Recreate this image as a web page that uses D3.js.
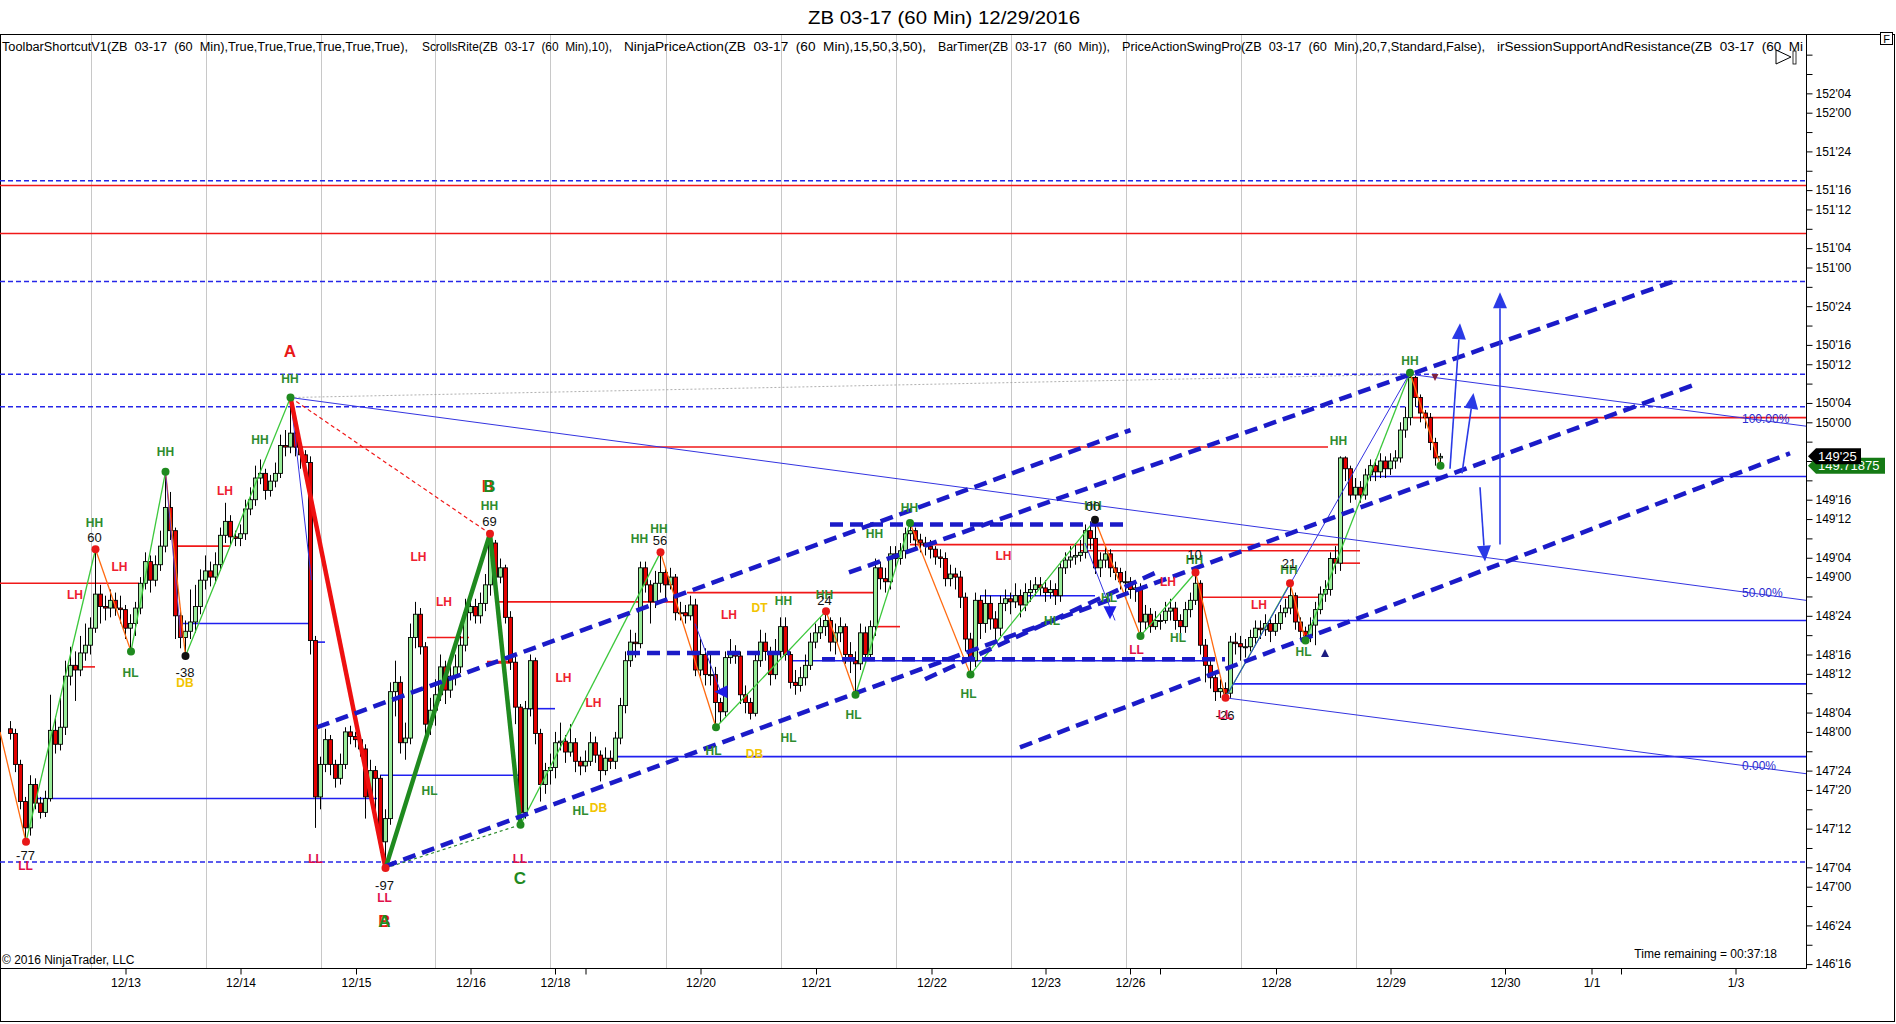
<!DOCTYPE html>
<html><head><meta charset="utf-8">
<script src="https://cdn.jsdelivr.net/npm/d3@7"></script>
<style>
body{margin:0;background:#fff;}
svg{display:block;font-family:Arial,"Liberation Sans",sans-serif;}
</style>
</head><body>
<svg id="c" width="1896" height="1024"></svg>
<script>
// ---------------- DATA ----------------
const title = "ZB 03-17 (60 Min)  12/29/2016";
const firstOpen = 148.02;
const closes = [
147.99,147.79,147.55,147.38,147.66,147.54,147.48,147.57,148.01,147.92,
148.03,148.36,148.43,148.40,148.51,148.56,148.67,148.89,148.81,148.80,
148.85,148.80,148.79,148.67,148.70,148.80,148.96,149.10,148.98,149.08,
149.20,149.45,149.30,148.75,148.61,148.65,148.71,148.81,148.98,149.04,
149.00,149.08,149.27,149.36,149.26,149.25,149.28,149.44,149.50,149.64,
149.67,149.56,149.62,149.67,149.85,149.84,149.93,149.84,149.79,149.74,
148.59,147.58,147.79,147.95,147.79,147.70,147.79,148.00,147.97,147.95,
147.89,147.58,147.75,147.70,147.29,147.44,148.26,148.32,147.93,147.96,
148.61,148.76,148.55,148.05,148.14,148.24,148.42,148.27,148.36,148.42,
148.56,148.77,148.81,148.75,148.83,148.95,149.22,149.00,149.06,148.74,
148.45,148.16,147.48,148.15,148.46,147.99,147.66,147.75,147.77,147.93,
147.94,147.87,147.93,147.81,147.78,147.81,147.93,147.85,147.75,147.83,
147.81,147.96,148.17,148.46,148.58,148.57,149.06,148.95,148.84,148.96,
149.03,148.95,149.00,148.77,148.77,148.75,148.82,148.40,148.50,148.37,
148.37,148.19,148.13,148.48,148.51,148.49,148.24,148.19,148.12,148.46,
148.58,148.52,148.37,148.52,148.68,148.50,148.32,148.30,148.35,148.43,
148.58,148.64,148.68,148.72,148.58,148.64,148.68,148.50,148.46,148.44,
148.64,148.50,148.68,149.06,148.99,148.97,149.15,149.12,149.17,149.28,
149.30,149.24,149.22,149.20,149.18,149.13,149.12,148.99,149.02,149.00,
148.87,148.60,148.46,148.85,148.70,148.83,148.73,148.67,148.83,148.86,
148.84,148.88,148.82,148.90,148.92,148.95,148.93,148.90,148.92,148.88,
149.06,149.11,149.13,149.14,149.16,149.30,149.25,149.06,149.11,149.15,
149.06,149.03,148.97,148.97,148.92,148.93,148.71,148.76,148.68,148.72,
148.72,148.78,148.80,148.72,148.68,148.79,148.85,148.96,148.56,148.43,
148.35,148.26,148.28,148.25,148.58,148.57,148.55,148.55,148.61,148.67,
148.66,148.70,148.65,148.70,148.77,148.80,148.88,148.71,148.65,148.62,
148.69,148.79,148.89,148.92,149.12,149.09,149.77,149.70,149.53,149.58,
149.53,149.66,149.72,149.68,149.75,149.70,149.75,149.77,149.95,150.03,
150.29,150.16,150.06,150.03,149.87,149.77,149.78];
const highs = [
148.07,148.02,147.82,147.58,147.72,147.70,147.58,147.62,148.24,148.10,
148.22,148.46,148.55,148.52,148.62,148.70,148.74,149.18,148.95,148.88,
148.92,148.90,148.88,148.82,148.76,148.84,149.00,149.16,149.14,149.14,
149.30,149.68,149.55,149.32,148.80,148.72,148.92,148.95,149.05,149.14,
149.10,149.16,149.32,149.48,149.40,149.30,149.34,149.50,149.58,149.72,
149.76,149.70,149.66,149.74,149.92,149.95,150.16,149.98,149.88,149.82,
149.78,148.62,147.84,148.02,147.98,147.82,147.86,148.03,148.04,148.00,
147.98,147.92,147.82,147.78,147.72,147.50,148.32,148.46,148.36,148.06,
148.70,148.84,148.80,148.58,148.22,148.34,148.50,148.46,148.44,148.50,
148.62,148.86,148.88,148.86,148.90,149.02,149.28,149.24,149.12,149.08,
148.78,148.50,148.18,148.20,148.50,148.48,148.02,147.80,147.86,148.00,
148.06,147.98,148.05,147.96,147.84,147.88,148.00,147.97,147.88,147.90,
147.88,148.00,148.22,148.52,148.66,148.64,149.10,149.10,148.98,149.04,
149.16,149.06,149.06,149.02,148.84,148.82,148.88,148.86,148.60,148.54,
148.50,148.42,148.22,148.52,148.60,148.56,148.52,148.30,148.22,148.50,
148.66,148.64,148.55,148.60,148.74,148.74,148.52,148.40,148.42,148.50,
148.64,148.70,148.74,148.78,148.74,148.70,148.74,148.70,148.58,148.52,
148.70,148.68,148.72,149.12,149.10,149.06,149.20,149.20,149.22,149.32,
149.35,149.32,149.28,149.26,149.24,149.20,149.18,149.16,149.08,149.06,
149.04,148.90,148.64,148.90,148.88,148.92,148.88,148.78,148.88,148.92,
148.90,148.96,148.92,148.96,148.98,149.00,149.00,148.98,148.98,148.96,
149.10,149.16,149.20,149.22,149.24,149.34,149.36,149.37,149.16,149.20,
149.18,149.10,149.06,149.04,149.00,148.98,148.96,148.82,148.80,148.78,
148.76,148.84,148.86,148.84,148.76,148.84,148.90,149.03,148.98,148.60,
148.46,148.38,148.34,148.32,148.62,148.64,148.62,148.60,148.66,148.72,
148.72,148.76,148.74,148.76,148.82,148.86,148.96,148.90,148.74,148.68,
148.74,148.84,148.94,148.98,149.16,149.20,149.78,149.78,149.72,149.64,
149.62,149.70,149.76,149.76,149.80,149.78,149.80,149.82,150.00,150.10,
150.32,150.30,150.18,150.08,150.06,149.90,149.80];
const lows = [
147.95,147.74,147.50,147.29,147.33,147.50,147.44,147.45,147.55,147.86,
147.88,147.98,148.30,148.20,148.36,148.46,148.50,148.64,148.70,148.72,
148.74,148.75,148.70,148.60,148.52,148.62,148.76,148.92,148.90,148.94,
149.04,149.16,149.24,148.60,148.54,148.49,148.60,148.64,148.76,148.92,
148.94,148.96,149.04,149.22,149.20,149.20,149.20,149.24,149.40,149.46,
149.60,149.50,149.52,149.58,149.64,149.78,149.80,149.78,149.70,149.66,
148.50,147.38,147.50,147.74,147.72,147.64,147.66,147.76,147.92,147.90,
147.84,147.44,147.54,147.40,147.22,147.12,147.40,148.10,147.86,147.82,
147.92,148.54,148.50,147.96,147.98,148.04,148.20,148.18,148.22,148.30,
148.38,148.52,148.72,148.70,148.70,148.78,148.88,148.94,148.96,148.70,
148.40,148.05,147.40,147.44,148.10,147.92,147.55,147.60,147.66,147.70,
147.88,147.80,147.84,147.74,147.72,147.74,147.78,147.80,147.68,147.72,
147.76,147.76,147.92,148.12,148.42,148.48,148.54,148.90,148.70,148.80,
148.90,148.86,148.92,148.72,148.72,148.70,148.72,148.36,148.36,148.30,
148.30,148.03,148.06,148.10,148.44,148.44,148.18,148.12,148.08,148.10,
148.42,148.46,148.30,148.34,148.48,148.46,148.28,148.24,148.26,148.30,
148.40,148.54,148.60,148.62,148.52,148.50,148.58,148.44,148.38,148.24,
148.40,148.44,148.46,148.62,148.92,148.90,148.92,149.06,149.08,149.12,
149.22,149.18,149.16,149.14,149.12,149.08,149.06,148.94,148.94,148.92,
148.80,148.52,148.37,148.42,148.60,148.64,148.66,148.58,148.62,148.78,
148.76,148.80,148.74,148.78,148.84,148.88,148.88,148.84,148.86,148.82,
148.84,149.02,149.06,149.08,149.10,149.12,149.18,149.02,149.00,149.06,
149.00,148.98,148.92,148.90,148.86,148.84,148.62,148.66,148.64,148.66,
148.66,148.70,148.72,148.66,148.62,148.64,148.74,148.82,148.50,148.32,
148.28,148.20,148.22,148.22,148.22,148.50,148.46,148.48,148.52,148.56,
148.60,148.62,148.58,148.62,148.66,148.74,148.76,148.66,148.60,148.59,
148.58,148.56,148.76,148.84,148.88,149.02,149.04,149.62,149.48,149.50,
149.48,149.50,149.62,149.62,149.64,149.64,149.66,149.70,149.74,149.90,
149.98,150.10,150.00,149.96,149.82,149.72,149.72];

// price axis labels (ticks every 4/32)
const priceLabels = ["152'04","152'00","151'24","151'16","151'12","151'04","151'00","150'24","150'16","150'12","150'04","150'00","149'16","149'12","149'04","149'00","148'24","148'16","148'12","148'04","148'00","147'24","147'20","147'12","147'04","147'00","146'24","146'16"];
// date axis (bar positions)
const dateBars   = [23.1,46.1,69.2,92.1,109.0,115.1,138.1,161.2,184.3,207.1,224.0,230.0,253.2,276.1,299.0,316.3,322.2,345.1];
const dateLabels = ["12/13","12/14","12/15","12/16","12/18","","12/20","12/21","12/22","12/23","12/26","","12/28","12/29","12/30","1/1","","1/3"];
const gridBars = [16.1,39.1,62.1,85.1,108.1,131.1,154.1,177.1,200.1,223.1,246.1,269.1];

// swing pivots [bar, price, dotColor]
const pivots = [[-2,148.0,""],[3.2,147.29,"r"],[17.1,149.18,"r"],[24.2,148.52,"g"],[31.1,149.68,"g"],[35.1,148.49,"k"],
[56.1,150.16,"g"],[75.1,147.12,"r"],[96,149.28,"r"],[102.1,147.40,"g"],[130.1,149.16,"r"],[141.2,148.03,"g"],
[163.2,148.78,"r"],[169.1,148.24,"g"],[180,149.35,"g"],[192.1,148.37,"g"],[217,149.37,"k"],[226.1,148.62,"g"],
[237.1,149.03,"r"],[243.1,148.22,"r"],[256,148.96,"r"],[259.1,148.59,"g"],[280,150.32,"g"],[286.1,149.72,"g"]];

// horizontal levels
const dashedLevels = [151.56,150.91,150.31,150.10,147.16];
const redLevels = [151.53,151.22];
const redSegments = [[148.96,-2,25.8],[148.42,13,17],[149.20,33,44],[149.84,56.8,263.6],[148.61,83.4,91.8],[148.84,97.4,133],
[148.90,135.4,172.6],[148.68,173,178],[149.21,180,265.6],[149.17,214,270],[148.87,238.4,261.6],[149.09,266,270],[150.03,280.6,360]];
const blueSegments = [[147.57,4.6,73.4],[147.72,74,102],[148.70,34.2,60],[148.58,60.6,63],[148.15,103.4,109],[147.84,120.6,360],
[148.46,156,238.6],[148.88,194,217],[148.31,244.6,360],[148.72,260.4,360],[149.65,272,360]];
const thickDashH = [[148.51,123.4,156],[148.47,162.4,243],[149.34,164,224]];
const channels = [[61.4,148.03,224.1,149.95],[74.9,147.13,336.6,150.24],[167.8,149.03,333.6,150.92],[183,148.34,229.2,149.03],[202,147.90,356,149.80]];
const fibLines = [[280,150.31,359.2,149.975,"100.00%"],[56.1,150.16,359.2,148.85,"50.00%"],[243.1,148.22,359.2,147.73,"0.00%"]];
const thinBlue = [[243.1,148.22,280,150.32],[56.1,150.16,60.3,148.98],[215,149.22,221,148.72],[137,148.70,142,148.27]];
const arrows = [[288,149.70,290,150.64],[290.4,149.67,292.7,150.19],[298,149.21,298,150.84],[294,149.58,295,149.10]];
const markers = [[220,148.77,"down","#1e1ee6",13],[142.2,148.26,"left","#1e1ee6",13],[263,148.51,"up","#1c1c80",8],[285,150.29,"down","#802040",7]];

const labels = [
[56.0,150.46,"A","AR"],[56.0,150.28,"HH","g"],[50.0,149.89,"HH","g"],[43.0,149.56,"LH","r"],[31.1,149.81,"HH","g"],
[16.9,149.35,"HH","g"],[16.9,149.26,"60","k"],[21.9,149.07,"LH","r"],[13.0,148.885,"LH","r"],[24.1,148.385,"HL","g"],
[35.0,148.385,"-38","k"],[35.0,148.32,"DB","y"],[3.1,147.20,"-77","k"],[3.1,147.135,"LL","m"],[61.1,147.18,"LL","m"],
[95.6,149.59,"B","AR"],[95.9,149.59,"B","BG"],[95.9,149.46,"HH","g"],[95.9,149.36,"69","k"],[81.7,149.13,"LH","r"],
[86.8,148.84,"LH","r"],[83.9,147.62,"HL","g"],[74.9,147.01,"-97","k"],[74.9,146.93,"LL","m"],[74.9,146.78,"B","AR"],
[74.9,146.78,"A","BG"],[102,147.18,"LL","m"],[102,147.06,"C","BG"],[110.7,148.35,"LH","r"],[116.7,148.19,"LH","r"],
[114.1,147.49,"HL","g"],[117.7,147.51,"DB","y"],[125.9,149.25,"HH","g"],[129.8,149.31,"HH","g"],[130.0,149.24,"56","k"],
[143.8,148.76,"LH","r"],[149.9,148.80,"DT","y"],[154.7,148.85,"HH","g"],[162.9,148.885,"HH","g"],[162.9,148.85,"24","k"],
[140.7,147.88,"HL","g"],[148.9,147.86,"DB","y"],[155.7,147.96,"HL","g"],[168.7,148.11,"HL","g"],[172.9,149.28,"HH","g"],
[179.9,149.45,"HH","g"],[198.7,149.14,"LH","r"],[191.7,148.25,"HL","g"],[216.6,149.46,"HH","g"],[216.6,149.46,"00","k"],
[208.4,148.72,"HL","g"],[219.8,148.87,"HL","g"],[231.6,148.97,"LH","r"],[236.9,149.11,"HH","g"],[236.9,149.15,"10","k"],
[233.6,148.61,"HL","g"],[225.3,148.53,"LL","m"],[249.8,148.82,"LH","r"],[255.8,149.05,"HH","g"],[255.8,149.09,"21","k"],
[258.7,148.52,"HL","g"],[243.0,148.11,"-26","k"],[243.0,148.11,"LL","m"],[265.7,149.88,"HH","g"],[280.0,150.40,"HH","g"]];

const indicatorText = [
"ToolbarShortcutV1(ZB  03-17  (60  Min),True,True,True,True,True,True),",
"ScrollsRite(ZB  03-17  (60  Min),10),",
"NinjaPriceAction(ZB  03-17  (60  Min),15,50,3,50),",
"BarTimer(ZB  03-17  (60  Min)),",
"PriceActionSwingPro(ZB  03-17  (60  Min),20,7,Standard,False),",
"irSessionSupportAndResistance(ZB  03-17  (60  Mi"];
const lastPrice = 149.78125, lastPriceText = "149'25";
const bidPrice = 149.71875, bidPriceText = "149.71875";

// ---------------- LAYOUT ----------------
const PR = 1806, PT = 34, PB = 968;
const svg = d3.select("#c");
const x = d3.scaleLinear().domain([0, 286]).range([10, 1440]);
const y = d3.scaleLinear().domain([147, 152]).range([886.7, 112.7]);

svg.append("defs").append("clipPath").attr("id","clip")
  .append("rect").attr("x",0).attr("y",PT+1).attr("width",PR).attr("height",PB-PT-1);

// title
svg.append("text").attr("x",944).attr("y",24).attr("text-anchor","middle")
  .attr("font-size",18).attr("textLength",272).attr("lengthAdjust","spacingAndGlyphs").text(title);

// frame
svg.append("rect").attr("x",0.5).attr("y",PT+0.5).attr("width",1894).attr("height",987)
  .attr("fill","none").attr("stroke","#000");

const plot = svg.append("g").attr("clip-path","url(#clip)");

// vertical grid
plot.selectAll("line.grid").data(gridBars).join("line")
  .attr("x1",d=>Math.round(x(d))+0.5).attr("x2",d=>Math.round(x(d))+0.5)
  .attr("y1",PT).attr("y2",PB).attr("stroke","#c8c8c8").attr("stroke-width",1);

const X0 = x.invert(0), X1 = x.invert(PR);
const seg = (g, data, color, w, dash) => g.selectAll(null).data(data).join("line")
  .attr("x1",d=>x(d[0])).attr("y1",d=>y(d[1])).attr("x2",d=>x(d[2])).attr("y2",d=>y(d[3]))
  .attr("stroke",color).attr("stroke-width",w).attr("stroke-dasharray",dash||null).attr("fill","none");

// horizontal levels
seg(plot, dashedLevels.map(p=>[X0,p,X1,p]), "#2626e8", 1.6, "5,3");
seg(plot, redLevels.map(p=>[X0,p,X1,p]), "#f01818", 1.6);
seg(plot, redSegments.map(s=>[s[1],s[0],s[2],s[0]]), "#f01818", 1.6);
seg(plot, [[95.4,148.45,100,148.45]], "#f01818", 3);
seg(plot, blueSegments.map(s=>[s[1],s[0],s[2],s[0]]), "#2020f0", 1.6);

// candles
const opens = closes.map((c,i)=> i===0 ? firstOpen : closes[i-1]);
const cg = plot.append("g");
cg.selectAll("line").data(closes).join("line")
  .attr("x1",(d,i)=>x(i)+0.5).attr("x2",(d,i)=>x(i)+0.5)
  .attr("y1",(d,i)=>y(highs[i])).attr("y2",(d,i)=>y(lows[i]))
  .attr("stroke","#000").attr("stroke-width",1);
cg.selectAll("rect").data(closes).join("rect")
  .attr("x",(d,i)=>x(i)-1.5).attr("width",4)
  .attr("y",(d,i)=>y(Math.max(opens[i],d)))
  .attr("height",(d,i)=>Math.max(1,Math.abs(y(opens[i])-y(d))))
  .attr("fill",(d,i)=> d>=opens[i] ? "#98ec98" : "#e40000")
  .attr("stroke","#000").attr("stroke-width",0.9);

// swing lines
const swings = [];
for (let i=1;i<pivots.length;i++){
  const a=pivots[i-1], b=pivots[i];
  swings.push([a[0],a[1],b[0],b[1], b[1]>a[1] ? "#3cc83c" : "#ff6a10"]);
}
plot.selectAll("line.sw").data(swings).join("line")
  .attr("x1",d=>x(d[0])).attr("y1",d=>y(d[1])).attr("x2",d=>x(d[2])).attr("y2",d=>y(d[3]))
  .attr("stroke",d=>d[4]).attr("stroke-width",1.3);

// thin lines
seg(plot, [[56.1,150.16,280,150.31]], "#9a9a9a", 0.8, "2,2");
seg(plot, thinBlue, "#3434e0", 1);
seg(plot, [[31.1,149.68,34.2,148.61]], "#6a3cc0", 1);
seg(plot, fibLines, "#3434e0", 1);

// ABC lines
seg(plot, [[56.1,150.16,96,149.28]], "#f01818", 1.2, "4,3");
seg(plot, [[75.1,147.12,102.1,147.40]], "#2a8a2a", 1.2, "3,3");
seg(plot, [[56.1,150.16,75.1,147.12]], "#ee1010", 4.5);
seg(plot, [[75.1,147.12,96,149.28],[96,149.28,102.1,147.40]], "#1f8a1f", 4.5);

// thick dashed lines
seg(plot, channels, "#1b1bc8", 4.5, "13,7");
seg(plot, thickDashH.map(s=>[s[1],s[0],s[2],s[0]]), "#1b1bc8", 4.5, "13,7");

// pivot dots
const dotCol = {r:"#e81818", g:"#1f8a1f", k:"#111"};
plot.selectAll("circle").data(pivots.filter(p=>p[2])).join("circle")
  .attr("cx",d=>x(d[0])).attr("cy",d=>y(d[1])).attr("r",4)
  .attr("fill",d=>dotCol[d[2]]);

// markers
const tri = (d) => {
  const cx=x(d[0]), cy=y(d[1]), s=d[4];
  if (d[2]==="down") return [[cx-s/2,cy-s/2],[cx+s/2,cy-s/2],[cx,cy+s/2]];
  if (d[2]==="up") return [[cx-s/2,cy+s/2],[cx+s/2,cy+s/2],[cx,cy-s/2]];
  return [[cx+s/2,cy-s/2],[cx+s/2,cy+s/2],[cx-s/2,cy]];
};
plot.selectAll("polygon.mk").data(markers).join("polygon")
  .attr("points",d=>tri(d).map(p=>p.join(",")).join(" ")).attr("fill",d=>d[3]);

// arrows
const ag = plot.append("g");
arrows.forEach(a=>{
  const x1=x(a[0]), y1=y(a[1]), x2=x(a[2]), y2=y(a[3]);
  const ang=Math.atan2(y2-y1,x2-x1), L=16, Wd=7;
  const bx=x2-L*Math.cos(ang), by=y2-L*Math.sin(ang);
  ag.append("line").attr("x1",x1).attr("y1",y1).attr("x2",bx).attr("y2",by)
    .attr("stroke","#2a3ae6").attr("stroke-width",1.6);
  const px=-Math.sin(ang)*Wd, py=Math.cos(ang)*Wd;
  ag.append("polygon").attr("points",[[x2,y2],[bx+px,by+py],[bx-px,by-py]].map(p=>p.join(",")).join(" "))
    .attr("fill","#2a3ae6");
});

// fib labels
plot.selectAll("text.fib").data(fibLines).join("text")
  .attr("x",1742).attr("y",d=>{const t=(x.invert(1742)-d[0])/(d[2]-d[0]); return y(d[1]+t*(d[3]-d[1]))+5;})
  .attr("font-size",12).attr("fill","#2a2ad0").text(d=>d[4]);

// swing labels
const lblStyle = {
  g:{c:"#2f8c2f",s:12,w:"bold"}, r:{c:"#ee2030",s:12,w:"bold"}, m:{c:"#e0104a",s:12,w:"bold"},
  y:{c:"#f2c400",s:12,w:"bold"}, k:{c:"#111",s:13,w:"normal"}, AR:{c:"#e81818",s:17,w:"bold"}, BG:{c:"#1f8a1f",s:17,w:"bold"}};
plot.selectAll("text.lbl").data(labels).join("text")
  .attr("x",d=>x(d[0])).attr("y",d=>y(d[1])).attr("dy","0.36em").attr("text-anchor","middle")
  .attr("font-size",d=>lblStyle[d[3]].s).attr("font-weight",d=>lblStyle[d[3]].w)
  .attr("fill",d=>lblStyle[d[3]].c).text(d=>d[2]);

// indicator text
const indX = [2,422,624,938,1122,1497], indW = [406,190,302,172,363,306];
plot.selectAll("text.ind").data(indicatorText).join("text")
  .attr("x",(d,i)=>indX[i]).attr("y",51).attr("font-size",12)
  .attr("textLength",(d,i)=>indW[i]).attr("lengthAdjust","spacingAndGlyphs")
  .style("white-space","pre").text(d=>d);

// copyright & timer
svg.append("text").attr("x",2).attr("y",964).attr("font-size",12).text("\u00A9 2016 NinjaTrader, LLC");
svg.append("text").attr("x",1777).attr("y",958).attr("text-anchor","end").attr("font-size",12).text("Time remaining = 00:37:18");

// axes
svg.append("line").attr("x1",PR+0.5).attr("x2",PR+0.5).attr("y1",PT).attr("y2",PB+0.5).attr("stroke","#000");
svg.append("line").attr("x1",0).attr("x2",PR+0.5).attr("y1",PB+0.5).attr("y2",PB+0.5).attr("stroke","#000");

const parseP = s => { const [a,b]=s.split("'"); return +a + (+b)/32; };
const labelMap = new Map(priceLabels.map(s=>[Math.round(parseP(s)*32), s]));
const yTicks = d3.range(146.5, 152.38, 0.125);
const yAxis = d3.axisRight(y).tickValues(yTicks).tickSize(6).tickPadding(3)
  .tickFormat(v=>labelMap.get(Math.round(v*32))||"");
const gy = svg.append("g").attr("transform",`translate(${PR+0.5},0)`).call(yAxis);
gy.select(".domain").remove();
gy.selectAll("text").attr("font-size",12).attr("font-family",'Arial,"Liberation Sans",sans-serif').attr("fill","#000");

const xAxis = d3.axisBottom(x).tickValues(dateBars).tickSize(6).tickPadding(4)
  .tickFormat((d,i)=>dateLabels[i]);
const gx = svg.append("g").attr("transform",`translate(0,${PB+0.5})`).call(xAxis);
gx.select(".domain").remove();
gx.selectAll("text").attr("font-size",12).attr("font-family",'Arial,"Liberation Sans",sans-serif').attr("fill","#000");

// price tags
const tag = (p, txt, fill, w) => {
  const cy = y(p), x0 = PR+2;
  svg.append("polygon").attr("points",[[x0,cy],[x0+8,cy-8],[x0+w,cy-8],[x0+w,cy+8],[x0+8,cy+8]].map(q=>q.join(",")).join(" "))
    .attr("fill",fill);
  svg.append("text").attr("x",x0+10).attr("y",cy+4.5).attr("font-size",13).attr("fill","#fff").text(txt);
};
tag(bidPrice, bidPriceText, "#157a15", 77);
tag(lastPrice, lastPriceText, "#000", 53);

// top-right widgets
svg.append("rect").attr("x",1880.5).attr("y",32.5).attr("width",12).attr("height",12).attr("fill","#fff").attr("stroke","#000");
svg.append("text").attr("x",1886.5).attr("y",43).attr("text-anchor","middle").attr("font-size",11).text("F");
svg.append("polygon").attr("points","1776,50 1791,57 1776,64").attr("fill","none").attr("stroke","#000");
svg.append("rect").attr("x",1793).attr("y",51).attr("width",3).attr("height",13).attr("fill","#fff").attr("stroke","#000").attr("stroke-width",0.8);
</script>
</body></html>
